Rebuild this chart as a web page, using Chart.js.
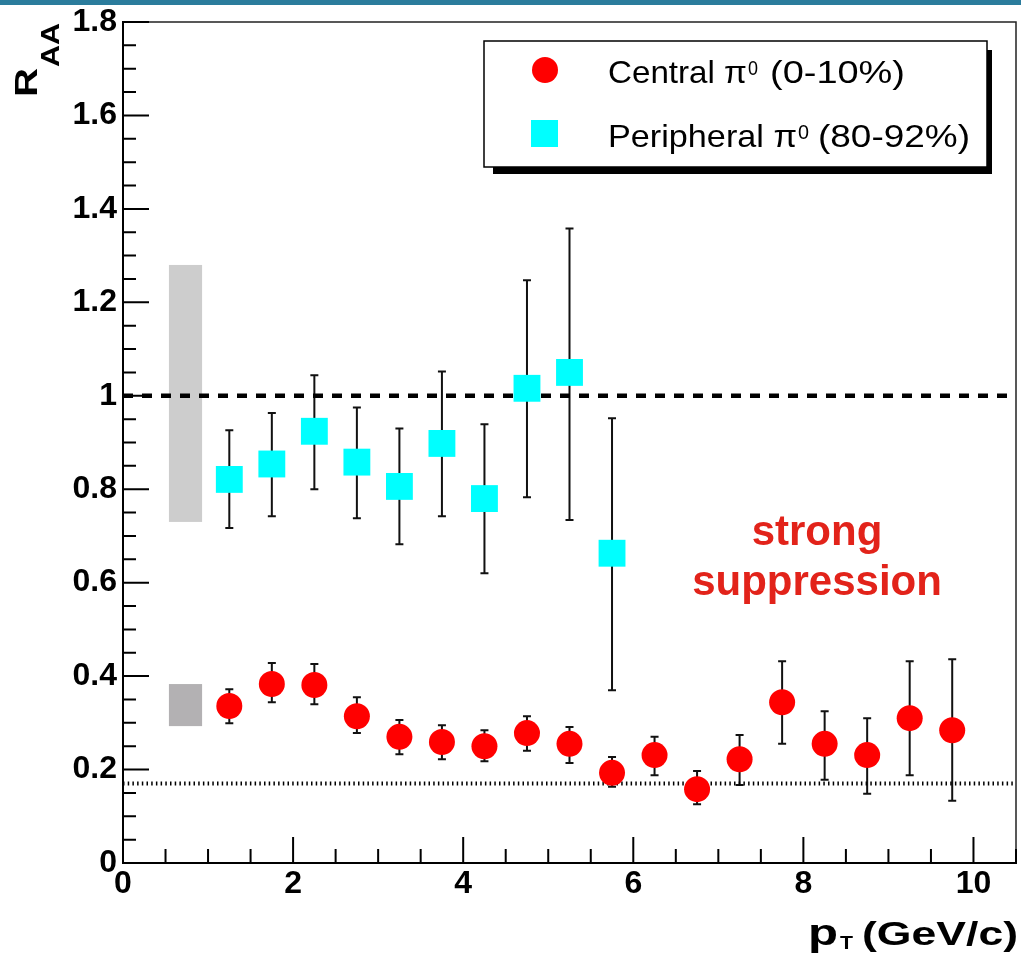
<!DOCTYPE html>
<html>
<head>
<meta charset="utf-8">
<script src="https://cdn.jsdelivr.net/npm/chart.js@4.4.1/dist/chart.umd.min.js"></script>
<style>
  html, body { margin: 0; padding: 0; background: #fff; overflow: hidden; }
  #box { width: 1021px; height: 956px; }
  canvas { display: block; }
</style>
</head>
<body>
<div id="box"><canvas id="raa"></canvas></div>
<script>
// pT bin centres (GeV/c)
const ptCentral = [1.25, 1.75, 2.25, 2.75, 3.25, 3.75, 4.25, 4.75, 5.25, 5.75, 6.25, 6.75, 7.25, 7.75, 8.25, 8.75, 9.25, 9.75];
const ptPeripheral = [1.25, 1.75, 2.25, 2.75, 3.25, 3.75, 4.25, 4.75, 5.25, 5.75];

// central pi0 (0-10%) RAA with error bar ends
const raaCentral = [0.336, 0.383, 0.381, 0.314, 0.270, 0.259, 0.250, 0.278, 0.255, 0.193, 0.231, 0.158, 0.222, 0.344, 0.255, 0.231, 0.310, 0.284];
const centralHi  = [0.372, 0.428, 0.426, 0.355, 0.306, 0.295, 0.284, 0.314, 0.291, 0.227, 0.270, 0.197, 0.274, 0.432, 0.325, 0.310, 0.432, 0.436];
const centralLo  = [0.299, 0.344, 0.340, 0.278, 0.233, 0.222, 0.218, 0.240, 0.214, 0.163, 0.188, 0.126, 0.167, 0.255, 0.178, 0.148, 0.188, 0.133];

// peripheral pi0 (80-92%)
const raaPeripheral = [0.821, 0.854, 0.924, 0.858, 0.806, 0.898, 0.780, 1.016, 1.050, 0.663];
const periphHi      = [0.926, 0.963, 1.044, 0.975, 0.930, 1.052, 0.939, 1.247, 1.358, 0.952];
const periphLo      = [0.717, 0.742, 0.800, 0.738, 0.682, 0.742, 0.620, 0.783, 0.734, 0.370];

// normalisation uncertainty boxes (peripheral, central)
const normBoxX  = [0.54, 0.93];
const normBoxLo = [0.73, 0.293];
const normBoxHi = [1.28, 0.383];

// reference lines
const unityY = 1.0;
const npartY = 0.17;
const lineX = [0, 10.5];

// axis ticks
const xTickValues = [0, 2, 4, 6, 8, 10];
const xTickLabels = ['0', '2', '4', '6', '8', '10'];
const yTickValues = [0, 0.2, 0.4, 0.6, 0.8, 1.0, 1.2, 1.4, 1.6, 1.8];
const yTickLabels = ['0', '0.2', '0.4', '0.6', '0.8', '1', '1.2', '1.4', '1.6', '1.8'];

const FAMILY = '"Liberation Sans", Arial, Helvetica, sans-serif';

function drawFit(ctx, text, x, y, w, font) {
    ctx.save();
    ctx.font = font;
    const nat = ctx.measureText(text).width;
    ctx.translate(x, y);
    ctx.scale(w / nat, 1);
    ctx.textAlign = 'left';
    ctx.textBaseline = 'alphabetic';
    ctx.fillText(text, 0, 0);
    ctx.restore();
}

const rootStyle = {
    id: 'rootStyle',
    beforeDraw(chart) {
        const ctx = chart.ctx;
        ctx.save();
        ctx.fillStyle = '#fff';
        ctx.fillRect(0, 0, chart.width, chart.height);
        ctx.fillStyle = '#2b7c9c'; // slide header strip
        ctx.fillRect(0, 0, chart.width, 5);
        ctx.restore();
    },
    beforeDatasetsDraw(chart) {
        const ctx = chart.ctx, xs = chart.scales.x, ys = chart.scales.y;
        ctx.save();
        // grey normalisation boxes
        const boxColors = ['#cdcdcd', '#b3b1b3'];
        for (let i = 0; i < normBoxLo.length; i++) {
            const x0 = xs.getPixelForValue(normBoxX[0]), x1 = xs.getPixelForValue(normBoxX[1]);
            const y0 = ys.getPixelForValue(normBoxHi[i]), y1 = ys.getPixelForValue(normBoxLo[i]);
            ctx.fillStyle = boxColors[i];
            ctx.fillRect(x0, y0, x1 - x0, y1 - y0);
        }
        // error bars
        ctx.strokeStyle = '#111';
        ctx.lineWidth = 2;
        const bars = (xv, lo, hi) => {
            for (let i = 0; i < xv.length; i++) {
                const px = xs.getPixelForValue(xv[i]);
                const pl = ys.getPixelForValue(lo[i]), ph = ys.getPixelForValue(hi[i]);
                ctx.beginPath();
                ctx.moveTo(px, pl); ctx.lineTo(px, ph);
                ctx.moveTo(px - 4, pl); ctx.lineTo(px + 4, pl);
                ctx.moveTo(px - 4, ph); ctx.lineTo(px + 4, ph);
                ctx.stroke();
            }
        };
        bars(ptPeripheral, periphLo, periphHi);
        bars(ptCentral, centralLo, centralHi);
        ctx.restore();
    },
    afterDraw(chart) {
        const ctx = chart.ctx, xs = chart.scales.x, ys = chart.scales.y;
        const a = chart.chartArea;
        ctx.save();
        // frame top and right
        ctx.strokeStyle = '#222';
        ctx.lineWidth = 1.5;
        ctx.beginPath();
        ctx.moveTo(a.left, a.top); ctx.lineTo(a.right, a.top); ctx.lineTo(a.right, a.bottom);
        ctx.stroke();
        // inward tick marks
        ctx.strokeStyle = '#000';
        ctx.lineWidth = 2;
        ctx.beginPath();
        for (let i = 0; i * 0.05 <= 1.8 + 1e-9; i++) {
            const py = ys.getPixelForValue(i * 0.05);
            ctx.moveTo(a.left, py);
            ctx.lineTo(a.left + (i % 4 === 0 ? 26 : 13), py);
        }
        for (let i = 0; i * 0.5 <= 10.5 + 1e-9; i++) {
            const px = xs.getPixelForValue(i * 0.5);
            ctx.moveTo(px, a.bottom);
            ctx.lineTo(px, a.bottom - (i % 4 === 0 ? 26 : 14));
        }
        ctx.stroke();

        ctx.fillStyle = '#000';
        // y title R_AA (rotated)
        ctx.save();
        ctx.translate(37, 97);
        ctx.rotate(-Math.PI / 2);
        drawFit(ctx, 'R', 0, 0, 29, 'bold 32px ' + FAMILY);
        drawFit(ctx, 'AA', 30, 22, 44, 'bold 26px ' + FAMILY);
        ctx.restore();
        // x title p_T (GeV/c)
        drawFit(ctx, 'p', 808, 945, 30, 'bold 36px ' + FAMILY);
        drawFit(ctx, 'T', 840, 949, 13, 'bold 18px ' + FAMILY);
        drawFit(ctx, '(GeV/c)', 862, 945, 156, 'bold 34px ' + FAMILY);

        // legend box with shadow
        ctx.fillStyle = '#000';
        ctx.fillRect(493, 50, 499, 124);
        ctx.fillStyle = '#fff';
        ctx.fillRect(484, 41, 503, 126);
        ctx.strokeStyle = '#000';
        ctx.lineWidth = 1.5;
        ctx.strokeRect(484, 41, 503, 126);
        const dsC = chart.data.datasets[0], dsP = chart.data.datasets[1];
        ctx.fillStyle = dsC.backgroundColor;
        ctx.beginPath(); ctx.arc(545, 70, 13, 0, Math.PI * 2); ctx.fill();
        ctx.fillStyle = dsP.backgroundColor;
        ctx.fillRect(531, 120, 27, 27);
        ctx.fillStyle = '#000';
        drawFit(ctx, 'Central π', 608, 83, 139, '32px ' + FAMILY);
        drawFit(ctx, '0', 748, 75, 10, '20px ' + FAMILY);
        drawFit(ctx, '(0-10%)', 770, 83, 135, '32px ' + FAMILY);
        drawFit(ctx, 'Peripheral π', 608, 147, 189, '32px ' + FAMILY);
        drawFit(ctx, '0', 798, 139, 11, '20px ' + FAMILY);
        drawFit(ctx, '(80-92%)', 818, 147, 152, '32px ' + FAMILY);

        // annotation
        ctx.fillStyle = '#e2231a';
        ctx.font = 'bold 42px ' + FAMILY;
        ctx.textAlign = 'center';
        ctx.fillText('strong', 817, 545);
        ctx.fillText('suppression', 817, 595);
        ctx.restore();
    }
};

const tickFont = { family: FAMILY, size: 32, weight: 'bold' };

new Chart(document.getElementById('raa'), {
    type: 'scatter',
    data: {
        datasets: [
            { // central, red circles
                label: 'Central π0 (0-10%)',
                data: ptCentral.map((x, i) => ({ x: x, y: raaCentral[i] })),
                backgroundColor: '#ff0000',
                pointStyle: 'circle',
                pointRadius: 13,
                pointHoverRadius: 13,
                pointBorderWidth: 0,
                order: 1
            },
            { // peripheral, cyan squares
                label: 'Peripheral π0 (80-92%)',
                data: ptPeripheral.map((x, i) => ({ x: x, y: raaPeripheral[i] })),
                backgroundColor: '#00ffff',
                pointStyle: 'rect',
                pointRadius: 19,
                pointHoverRadius: 19,
                pointBorderWidth: 0,
                order: 2
            },
            { // RAA = 1
                type: 'line',
                data: lineX.map(x => ({ x: x, y: unityY })),
                borderColor: '#000',
                borderWidth: 4.5,
                borderDash: [10, 9],
                pointRadius: 0,
                fill: false,
                order: 3
            },
            { // Npart scaling level
                type: 'line',
                data: lineX.map(x => ({ x: x, y: npartY })),
                borderColor: '#000',
                borderWidth: 4,
                borderDash: [1.5, 3.2],
                pointRadius: 0,
                fill: false,
                order: 4
            }
        ]
    },
    options: {
        responsive: true,
        maintainAspectRatio: false,
        animation: false,
        events: [],
        layout: { autoPadding: false, padding: { left: 0, right: 5, top: 22, bottom: 0 } },
        plugins: { legend: { display: false }, tooltip: { enabled: false } },
        scales: {
            x: {
                type: 'linear',
                min: 0,
                max: 10.5,
                afterBuildTicks: s => { s.ticks = xTickValues.map(v => ({ value: v })); },
                afterFit: s => { s.height = 93; s.paddingLeft = 0; s.paddingRight = 0; },
                ticks: {
                    callback: (v, i) => xTickLabels[i],
                    font: tickFont,
                    color: '#000',
                    padding: 2,
                    maxRotation: 0,
                    autoSkip: false
                },
                grid: { display: false, drawTicks: false },
                border: { display: true, color: '#000', width: 2 }
            },
            y: {
                type: 'linear',
                min: 0,
                max: 1.8,
                afterBuildTicks: s => { s.ticks = yTickValues.map(v => ({ value: v })); },
                afterFit: s => { s.width = 123; s.paddingTop = 0; s.paddingBottom = 0; },
                ticks: {
                    callback: (v, i) => yTickLabels[i],
                    font: tickFont,
                    color: '#000',
                    padding: 6,
                    autoSkip: false
                },
                grid: { display: false, drawTicks: false },
                border: { display: true, color: '#000', width: 2 }
            }
        }
    },
    plugins: [rootStyle]
});
</script>
</body>
</html>
